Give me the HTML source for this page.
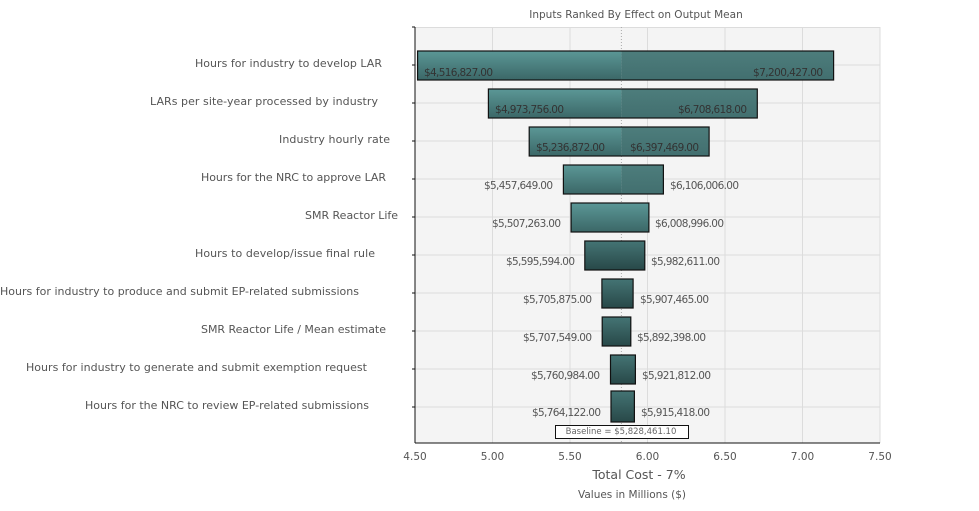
<!DOCTYPE html>
<html><head><meta charset="utf-8"><style>body{margin:0;background:#fff}svg{display:block;font-family:"DejaVu Sans","Liberation Sans",sans-serif}</style></head><body>
<svg width="979" height="511" viewBox="0 0 979 511">
<defs>
<linearGradient id="gl" x1="0" y1="0" x2="0" y2="1"><stop offset="0" stop-color="#5b9796"/><stop offset="1" stop-color="#3b6767"/></linearGradient>
<linearGradient id="gr" x1="0" y1="0" x2="0" y2="1"><stop offset="0" stop-color="#4d7d7c"/><stop offset="1" stop-color="#426f6f"/></linearGradient>
<linearGradient id="gd" x1="0" y1="0" x2="0" y2="1"><stop offset="0" stop-color="#447474"/><stop offset="1" stop-color="#284848"/></linearGradient>
</defs>
<rect x="415" y="27" width="465" height="416" fill="#f4f4f4"/>
<g stroke="#dcdcdc" stroke-width="1">
<line x1="492.5" y1="27" x2="492.5" y2="443"/><line x1="570" y1="27" x2="570" y2="443"/><line x1="647.5" y1="27" x2="647.5" y2="443"/><line x1="725" y1="27" x2="725" y2="443"/><line x1="802.5" y1="27" x2="802.5" y2="443"/><line x1="880" y1="27" x2="880" y2="443"/>
<line x1="415" y1="27.5" x2="880" y2="27.5"/>
<line x1="415" y1="65" x2="880" y2="65"/><line x1="415" y1="103" x2="880" y2="103"/><line x1="415" y1="141" x2="880" y2="141"/><line x1="415" y1="179" x2="880" y2="179"/><line x1="415" y1="217" x2="880" y2="217"/><line x1="415" y1="255" x2="880" y2="255"/><line x1="415" y1="293" x2="880" y2="293"/><line x1="415" y1="331" x2="880" y2="331"/><line x1="415" y1="369" x2="880" y2="369"/><line x1="415" y1="407" x2="880" y2="407"/>
</g>
<line x1="621.4" y1="27" x2="621.4" y2="443" stroke="#aaa" stroke-dasharray="1,2"/>
<g stroke="none">
<rect x="417.6" y="51" width="203.8" height="29" fill="url(#gl)"/><rect x="621.4" y="51" width="212.2" height="29" fill="url(#gr)"/>
<rect x="488.4" y="89" width="133" height="29" fill="url(#gl)"/><rect x="621.4" y="89" width="135.9" height="29" fill="url(#gr)"/>
<rect x="529.2" y="127" width="92.2" height="29" fill="url(#gl)"/><rect x="621.4" y="127" width="87.7" height="29" fill="url(#gr)"/>
<rect x="563.4" y="165" width="58" height="29" fill="url(#gl)"/><rect x="621.4" y="165" width="42" height="29" fill="url(#gr)"/>
<rect x="571.1" y="203" width="77.8" height="29" fill="url(#gl)"/>
<rect x="584.8" y="241" width="60" height="29" fill="url(#gd)"/>
<rect x="601.9" y="279" width="31.2" height="29" fill="url(#gd)"/>
<rect x="602.2" y="317" width="28.6" height="29" fill="url(#gd)"/>
<rect x="610.5" y="355" width="24.9" height="29" fill="url(#gd)"/>
<rect x="611" y="391" width="23.4" height="31" fill="url(#gd)"/>
</g>
<g stroke="#111" stroke-width="1.2" fill="none">
<rect x="417.6" y="51" width="416" height="29"/>
<rect x="488.4" y="89" width="268.9" height="29"/>
<rect x="529.2" y="127" width="179.9" height="29"/>
<rect x="563.4" y="165" width="100" height="29"/>
<rect x="571.1" y="203" width="77.8" height="29"/>
<rect x="584.8" y="241" width="60" height="29"/>
<rect x="601.9" y="279" width="31.2" height="29"/>
<rect x="602.2" y="317" width="28.6" height="29"/>
<rect x="610.5" y="355" width="24.9" height="29"/>
<rect x="611" y="391" width="23.4" height="31"/>
</g>
<g font-size="10.5" fill="#333">
<text x="424" y="76" textLength="69">$4,516,827.00</text><text x="753" y="76" textLength="70">$7,200,427.00</text>
<text x="495" y="113" textLength="69">$4,973,756.00</text><text x="678" y="113" textLength="69">$6,708,618.00</text>
<text x="536" y="151" textLength="69">$5,236,872.00</text><text x="630" y="151" textLength="69">$6,397,469.00</text>
</g>
<g font-size="10.5" fill="#555">
<text x="484" y="189" textLength="69">$5,457,649.00</text><text x="670" y="189" textLength="69">$6,106,006.00</text>
<text x="492" y="227" textLength="69">$5,507,263.00</text><text x="655" y="227" textLength="69">$6,008,996.00</text>
<text x="506" y="265" textLength="69">$5,595,594.00</text><text x="651" y="265" textLength="69">$5,982,611.00</text>
<text x="523" y="303" textLength="69">$5,705,875.00</text><text x="640" y="303" textLength="69">$5,907,465.00</text>
<text x="523" y="341" textLength="69">$5,707,549.00</text><text x="637" y="341" textLength="69">$5,892,398.00</text>
<text x="531" y="379" textLength="69">$5,760,984.00</text><text x="642" y="379" textLength="69">$5,921,812.00</text>
<text x="532" y="416" textLength="69">$5,764,122.00</text><text x="641" y="416" textLength="69">$5,915,418.00</text>
</g>
<rect x="555.5" y="425.5" width="133" height="13" fill="#fff" stroke="#111"/>
<text x="621" y="434" font-size="8.5" fill="#666" text-anchor="middle">Baseline = $5,828,461.10</text>
<line x1="415" y1="27" x2="415" y2="443" stroke="#111"/><line x1="415" y1="443" x2="880" y2="443" stroke="#111"/>
<g stroke="#111"><line x1="412" y1="65" x2="415" y2="65"/><line x1="412" y1="103" x2="415" y2="103"/><line x1="412" y1="141" x2="415" y2="141"/><line x1="412" y1="179" x2="415" y2="179"/><line x1="412" y1="217" x2="415" y2="217"/><line x1="412" y1="255" x2="415" y2="255"/><line x1="412" y1="293" x2="415" y2="293"/><line x1="412" y1="331" x2="415" y2="331"/><line x1="412" y1="369" x2="415" y2="369"/><line x1="412" y1="407" x2="415" y2="407"/><line x1="412" y1="27" x2="415" y2="27"/></g>
<g font-size="11" fill="#555">
<text x="195" y="67" textLength="187">Hours for industry to develop LAR</text>
<text x="150" y="105" textLength="228">LARs per site-year processed by industry</text>
<text x="279" y="143" textLength="111">Industry hourly rate</text>
<text x="201" y="181" textLength="185">Hours for the NRC to approve LAR</text>
<text x="305" y="219" textLength="93">SMR Reactor Life</text>
<text x="195" y="257" textLength="180">Hours to develop/issue final rule</text>
<text x="0" y="295" textLength="359">Hours for industry to produce and submit EP-related submissions</text>
<text x="201" y="333" textLength="185">SMR Reactor Life / Mean estimate</text>
<text x="26" y="371" textLength="341">Hours for industry to generate and submit exemption request</text>
<text x="85" y="409" textLength="284">Hours for the NRC to review EP-related submissions</text>
</g>
<g font-size="10.5" fill="#555" text-anchor="middle">
<text x="415" y="460">4.50</text><text x="492.5" y="460">5.00</text><text x="570" y="460">5.50</text><text x="647.5" y="460">6.00</text><text x="725" y="460">6.50</text><text x="802.5" y="460">7.00</text><text x="880" y="460">7.50</text>
</g>
<text x="639" y="479" font-size="12.5" fill="#555" text-anchor="middle">Total Cost - 7%</text>
<text x="632" y="498" font-size="10.5" fill="#555" text-anchor="middle">Values in Millions ($)</text>
<text x="636" y="18" font-size="10.5" fill="#555" text-anchor="middle">Inputs Ranked By Effect on Output Mean</text>
</svg>
</body></html>
